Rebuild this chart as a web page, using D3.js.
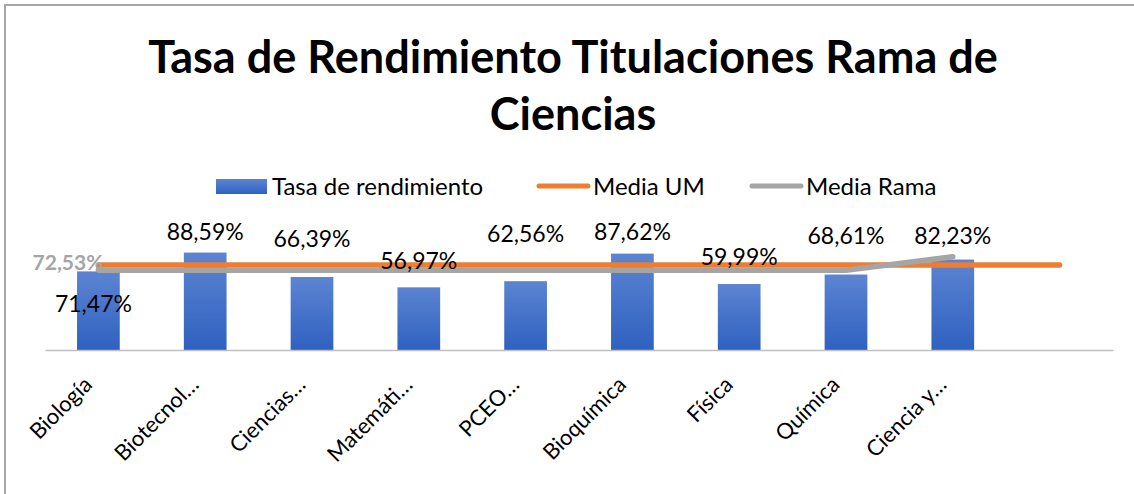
<!DOCTYPE html>
<html>
<head>
<meta charset="utf-8">
<script src="https://cdn.jsdelivr.net/npm/d3@7"></script>
<style>
  body { margin: 0; background: #fff; }
  svg { display: block; font-family: Lato, "Open Sans", sans-serif; }
</style>
</head>
<body>
<svg id="chart" width="1134" height="494"></svg>
<script>
// data
const categories = ['Biología', 'Biotecnol…', 'Ciencias…', 'Matemáti…', 'PCEO…', 'Bioquímica', 'Física', 'Química', 'Ciencia y…', '']
const tasa = [71.47, 88.59, 66.39, 56.97, 62.56, 87.62, 59.99, 68.61, 82.23, null]
const mediaUM = [77.3, 77.3, 77.3, 77.3, 77.3, 77.3, 77.3, 77.3, 77.3, 77.3]
const mediaRama = [72.53, 72.53, 72.53, 72.53, 72.53, 72.53, 72.53, 72.53, 84.8, null]
const titleLines = ['Tasa de Rendimiento Titulaciones Rama de', 'Ciencias']
const legendNames = ['Tasa de rendimiento', 'Media UM', 'Media Rama']

// label nudges (px from bar top), like the hand-placed labels in the original
const labelDy = [41, -13, -30, -18, -39, -14, -19, -31, -16]
const labelDx = [-5, 0, 0, 0, 0, 0, 0, 0, 0]

const fmt = v => d3.format('.2f')(v).replace('.', ',') + '%'

const svg = d3.select('#chart')

const x = d3.scaleBand().domain(d3.range(categories.length)).range([45, 1113])
    .paddingInner(0.6).paddingOuter(0.3)
const y = d3.scaleLinear().domain([0, 100]).range([350, 240])
const cx = i => x(i) + x.bandwidth() / 2

// frame (only top + left edge visible)
svg.append('path').attr('d', 'M5,494V5H1134').attr('fill', 'none')
    .attr('stroke', '#a6a6a6').attr('stroke-width', 2)

// title
const title = svg.append('g')
titleLines.forEach((t, i) => {
    title.append('text').attr('x', 573).attr('y', 73 + i * 57)
        .attr('text-anchor', 'middle').attr('font-weight', 700).attr('font-size', 44)
        .attr('fill', '#000').text(t)
})
const w0 = title.select('text').node().getComputedTextLength()
title.selectAll('text').attr('font-size', 44 * 850 / w0)

// gradient
const grad = svg.append('defs').append('linearGradient').attr('id', 'barGrad')
    .attr('x1', 0).attr('y1', 0).attr('x2', 0).attr('y2', 1)
grad.append('stop').attr('offset', '0%').attr('stop-color', '#5c84d2')
grad.append('stop').attr('offset', '100%').attr('stop-color', '#2f61c0')

// legend
const lg = svg.append('g').attr('font-size', 24).attr('fill', '#000')
lg.append('rect').attr('x', 216).attr('y', 179).attr('width', 51).attr('height', 15).attr('fill', 'url(#barGrad)')
lg.append('text').attr('x', 272).attr('y', 195).text(legendNames[0])
lg.append('line').attr('x1', 539).attr('x2', 588).attr('y1', 186).attr('y2', 186)
    .attr('stroke', '#ed7d31').attr('stroke-width', 5).attr('stroke-linecap', 'round')
lg.append('text').attr('x', 593).attr('y', 195).text(legendNames[1])
lg.append('line').attr('x1', 752).attr('x2', 801).attr('y1', 186).attr('y2', 186)
    .attr('stroke', '#a5a5a5').attr('stroke-width', 5).attr('stroke-linecap', 'round')
lg.append('text').attr('x', 806).attr('y', 195).text(legendNames[2])

// bars
const barData = tasa.map((v, i) => ({ i, v })).filter(d => d.v != null)
svg.append('g').selectAll('rect').data(barData).enter().append('rect')
    .attr('x', d => x(d.i)).attr('width', x.bandwidth())
    .attr('y', d => y(d.v)).attr('height', d => y(0) - y(d.v))
    .attr('fill', 'url(#barGrad)')

// axis
const xAxis = d3.axisBottom(x).tickSize(0).tickFormat(i => categories[i])
const xg = svg.append('g').attr('transform', `translate(0,${y(0)})`).call(xAxis)
xg.select('.domain').attr('stroke', '#bfbfbf').attr('stroke-width', 1.5)
xg.selectAll('.tick text')
    .attr('font-family', 'Lato, "Open Sans", sans-serif').attr('font-size', 22).attr('fill', '#000')
    .attr('text-anchor', 'end').attr('dy', 0).attr('y', 0)
    .attr('transform', 'translate(-5,36) rotate(-45)')

// lines
const line = d3.line().defined(d => d.v != null).x(d => cx(d.i)).y(d => y(d.v))
svg.append('path').datum(mediaUM.map((v, i) => ({ i, v })))
    .attr('d', line).attr('fill', 'none').attr('stroke', '#ed7d31')
    .attr('stroke-width', 5.5).attr('stroke-linecap', 'round').attr('stroke-linejoin', 'round')
svg.append('path').datum(mediaRama.map((v, i) => ({ i, v })))
    .attr('d', line).attr('fill', 'none').attr('stroke', '#a5a5a5')
    .attr('stroke-width', 5.5).attr('stroke-linecap', 'round').attr('stroke-linejoin', 'round')

// labels
svg.append('g').selectAll('text').data(barData).enter().append('text')
    .attr('x', d => cx(d.i) + labelDx[d.i]).attr('y', d => y(d.v) + labelDy[d.i])
    .attr('text-anchor', 'middle').attr('font-size', 23).attr('fill', '#000')
    .text(d => fmt(d.v))

svg.append('text').attr('x', cx(0) + 5).attr('y', y(mediaRama[0]))
    .attr('text-anchor', 'end').attr('font-size', 21).attr('font-weight', 700)
    .attr('fill', '#a5a5a5').text(fmt(mediaRama[0]))
</script>
</body>
</html>
